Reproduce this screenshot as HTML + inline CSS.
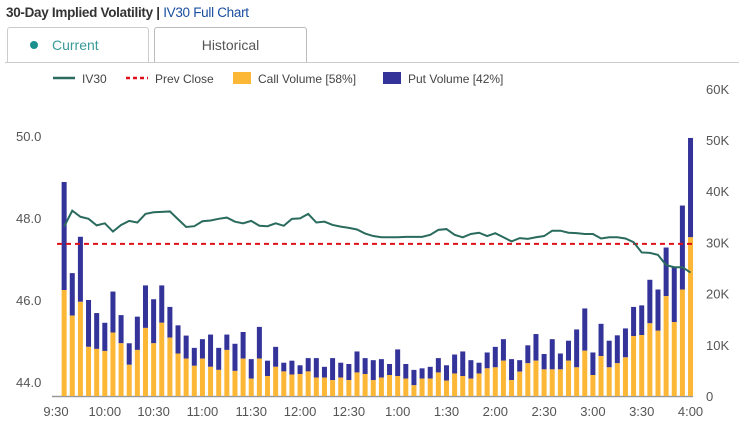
<!DOCTYPE html>
<html><head><meta charset="utf-8"><style>
body{margin:0;width:739px;height:427px;background:#fff;font-family:"Liberation Sans",sans-serif;overflow:hidden;position:relative}
.title{position:absolute;left:6px;top:5px;font-size:13.5px;font-weight:bold;color:#333;letter-spacing:-0.3px}
.title a{color:#1a4fa0;font-weight:normal;text-decoration:none}
.tab{position:absolute;top:27px;height:35px;border:1px solid #ccc;border-bottom:none;border-radius:3px 3px 0 0;background:#fff;font-size:14px;line-height:35px;box-sizing:border-box}
.line{position:absolute;left:5px;right:0;top:62px;border-top:1px solid #ccc}
svg{position:absolute;left:0;top:0}
</style></head><body>
<div class="title">30-Day Implied Volatility | <a>IV30 Full Chart</a></div>
<div class="tab" style="left:7px;width:142px;color:#3a9a9a;padding-left:22px"><span style="display:inline-block;width:8px;height:8px;border-radius:50%;background:#1a8f8f;margin-right:14px;vertical-align:1px"></span>Current</div>
<div class="tab" style="left:154px;width:153px;color:#555;text-align:center;border-color:#bbb">Historical</div>
<div class="line"></div>
<svg id="chart" width="739" height="427"></svg>
<script>
const callVol=[20.7,15.7,18.4,9.6,9.2,8.8,12.4,10.3,6.1,9.0,13.3,10.3,14.3,11.4,8.3,7.3,5.9,7.3,5.7,5.1,9.0,4.9,7.3,3.4,7.3,3.9,5.7,4.8,4.2,4.3,4.8,3.6,3.6,3.1,3.6,3.1,4.6,4.3,3.1,3.6,4.1,3.9,3.4,2.1,3.4,3.4,4.6,3.0,4.4,3.9,3.4,4.4,5.4,5.6,6.9,3.1,4.75,6.4,6.9,5.2,5.2,5.2,6.9,5.6,8.85,4.1,7.8,5.6,6.4,7.55,11.7,11.9,14.2,12.75,19.5,14.45,20.8,31.0];
const totalVol=[41.8,24.0,31.1,18.75,16.2,14.3,20.4,15.8,10.3,15.5,21.6,18.9,21.6,17.4,13.8,11.8,9.4,11.1,12.0,9.4,12.0,10.2,12.5,7.2,13.5,6.9,9.6,6.5,6.9,6.0,7.4,7.4,5.7,7.4,6.5,6.25,8.7,7.4,7.0,7.2,6.25,9.1,6.25,5.1,5.4,5.7,7.4,6.0,8.1,8.7,7.0,6.5,8.5,9.6,11.1,7.2,7.0,9.9,12.1,8.2,11.1,8.3,10.8,13.0,17.1,8.5,14.1,10.8,11.85,13.2,17.4,17.7,22.7,20.8,29.0,25.25,37.2,50.4];
const iv30=[47.79,48.18,48.03,47.98,47.82,47.87,47.67,47.83,47.93,47.89,48.10,48.14,48.15,48.16,47.97,47.78,47.80,47.92,47.94,47.98,48.01,47.91,47.87,47.93,47.81,47.80,47.87,47.81,47.98,47.99,48.10,47.89,47.91,47.83,47.79,47.76,47.72,47.62,47.56,47.53,47.53,47.53,47.54,47.54,47.54,47.59,47.71,47.73,47.59,47.53,47.61,47.64,47.56,47.63,47.53,47.43,47.51,47.49,47.53,47.56,47.69,47.69,47.64,47.63,47.61,47.61,47.50,47.53,47.53,47.50,47.41,47.16,47.15,47.10,46.85,46.80,46.80,46.67];
const prevClose=47.37;
const leftTicks=[44,46,48,50];
const rightTicks=[0,10,20,30,40,50,60];
const timeLabels=["9:30","10:00","10:30","11:00","11:30","12:00","12:30","1:00","1:30","2:00","2:30","3:00","3:30","4:00"];
const NS="http://www.w3.org/2000/svg";
const svg=document.getElementById('chart');
const yL=v=>382-(v-44)*41;
const yR=v=>396-v*5.12;
const xT=i=>56+i*8.135; // i = 5-minute slot index from 9:30
function mk(t,a){const e=document.createElementNS(NS,t);for(const k in a)e.setAttribute(k,a[k]);svg.appendChild(e);return e;}
// axis line
let ax=mk('line',{x1:52,x2:693,y1:396.5,y2:396.5,stroke:'#999','stroke-width':1.5});

leftTicks.forEach(v=>{const t=mk('text',{x:16,y:yL(v)+5,'font-size':13,fill:'#555'});t.textContent=v.toFixed(1);
});
rightTicks.forEach(v=>{const t=mk('text',{x:706,y:yR(v)+5,'font-size':13,fill:'#555'});t.textContent=v===0?'0':v+'K';
});
timeLabels.forEach((s,i)=>{const t=mk('text',{x:xT(i*6),y:416,'font-size':13,fill:'#555','text-anchor':'middle'});t.textContent=s;
});
callVol.forEach((c,i)=>{const x=xT(i+1)-2.5;
const p=mk('rect',{x:x,y:yR(totalVol[i]),width:5,height:yR(c)-yR(totalVol[i]),fill:'#333399'});

const b=mk('rect',{x:x,y:yR(c),width:5,height:396-yR(c),fill:'#fbb735'});
});
let pc=mk('line',{x1:57,x2:692,y1:yL(prevClose),y2:yL(prevClose),stroke:'#e0101a','stroke-width':2,'stroke-dasharray':'5,4'});

let pl=mk('polyline',{points:iv30.map((v,i)=>xT(i+1)+','+yL(v)).join(' '),fill:'none',stroke:'#2a6b5e','stroke-width':2});

// legend
const lg=[['line','#2a6b5e','IV30',53],['dash','#e0101a','Prev Close',126],['box','#fbb735','Call Volume [58%]',235],['box','#333399','Put Volume [42%]',385]];
lg.forEach(([k,c,s,x])=>{
let m;if(k==='line')m=mk('line',{x1:x,x2:x+22,y1:78,y2:78,stroke:c,'stroke-width':2.5});
else if(k==='dash')m=mk('line',{x1:x,x2:x+22,y1:78,y2:78,stroke:c,'stroke-width':2.5,'stroke-dasharray':'4,3'});
else m=mk('rect',{x:x-2,y:72,width:18,height:12,fill:c});

const t=mk('text',{x:x+(k==='box'?23:29),y:83,'font-size':12,fill:'#444'});t.textContent=s;
});
</script>
</body></html>
